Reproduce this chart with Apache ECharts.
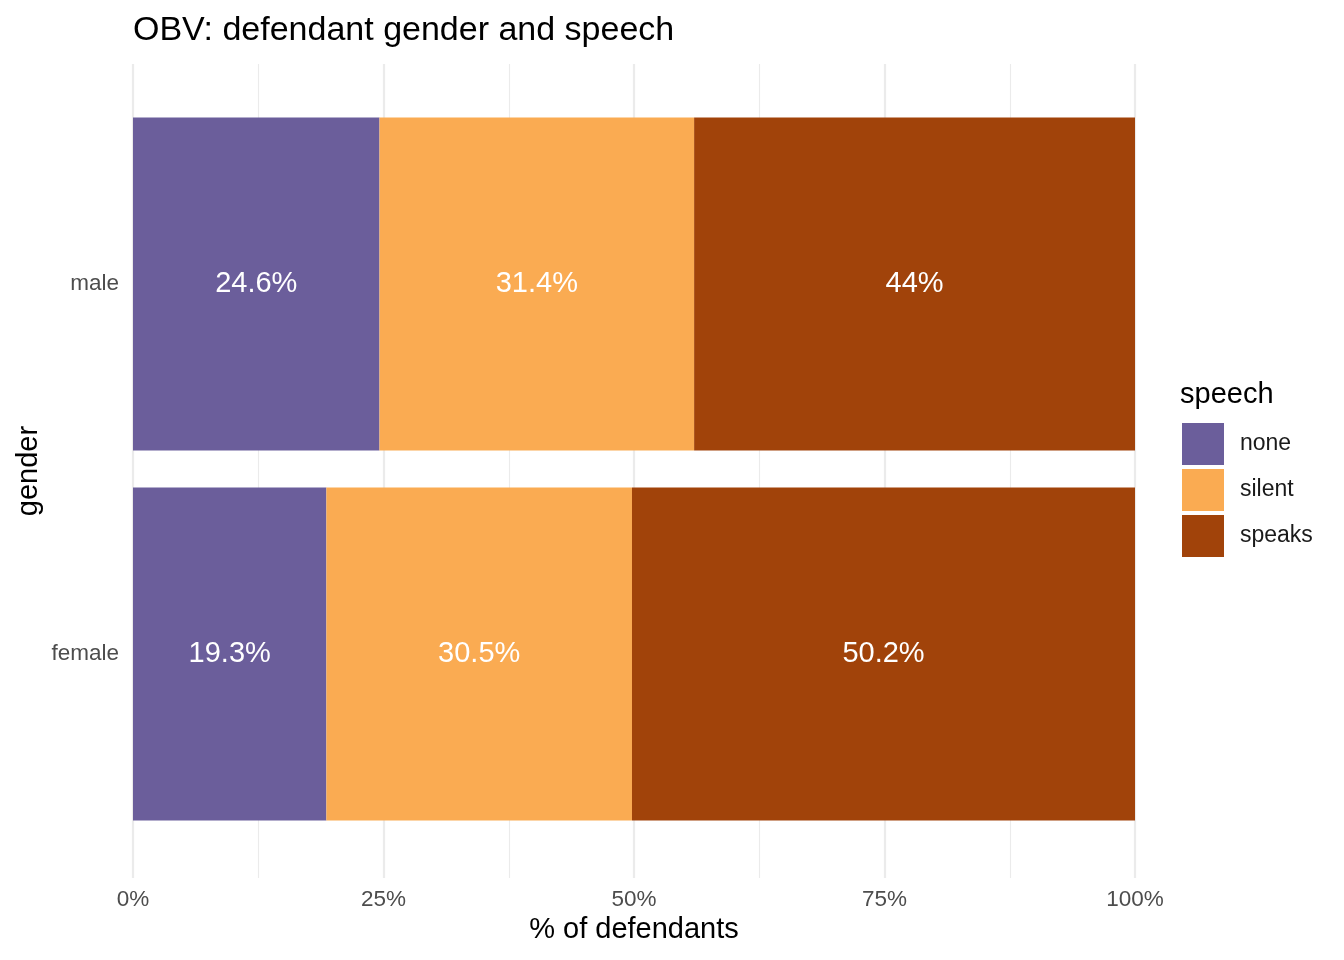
<!DOCTYPE html>
<html>
<head>
<meta charset="utf-8">
<script src="https://cdn.jsdelivr.net/npm/echarts@6/dist/echarts.min.js"></script>
<style>
html,body{margin:0;padding:0;background:#fff;}
#chart{width:1344px;height:960px;}
</style>
</head>
<body>
<div id="chart"></div>
<script>
// data
var genders = ['female', 'male'];
var speechTypes = ['none', 'silent', 'speaks'];
var noneVals = [19.3, 24.6];
var silentVals = [30.5, 31.4];
var speaksVals = [50.2, 44.0];
var xTicks = [0, 25, 50, 75, 100];

var colors = ['#6B5E9B', '#FAAB52', '#A1430A'];
var font = 'Liberation Sans, Arial, Helvetica, sans-serif';

function makeSeries(name, vals, color){
    return {
        name: name,
        type: 'bar',
        stack: 'all',
        xAxisIndex: 1,
        yAxisIndex: 1,
        barCategoryGap: '10%',
        itemStyle: { color: color },
        label: {
            show: true,
            position: 'inside',
            color: '#fff',
            fontSize: 29,
            fontFamily: font,
            formatter: function(p){ return (Math.round(p.value*10)/10) + '%'; }
        },
        data: vals
    };
}

var option = {
    animation: false,
    backgroundColor: '#fff',
    title: {
        text: 'OBV: defendant gender and speech',
        left: 128, top: 9,
        textStyle: { fontFamily: font, fontWeight: 'normal', fontSize: 34, color: '#000' }
    },
    legend: {
        orient: 'vertical',
        left: 1177, top: 418,
        itemWidth: 42, itemHeight: 42, itemGap: 4,
        icon: 'rect',
        data: speechTypes,
        textStyle: { fontFamily: font, fontSize: 23, color: '#1a1a1a', padding: [4, 0, 0, 11] }
    },
    graphic: [{
        type: 'text', left: 1180, top: 380,
        style: { text: 'speech', font: '29px ' + font, fill: '#000' }
    }],
    grid: [
        // panel grid (grid lines span full panel)
        { left: 133, right: 209, top: 64, bottom: 82 },
        // bar grid (band centres at 284 / 654)
        { left: 133, right: 209, top: 99, bottom: 121 }
    ],
    xAxis: [{
        gridIndex: 0,
        type: 'value', min: 0, max: 100, interval: 25,
        axisLine: { show: false }, axisTick: { show: false },
        axisLabel: {
            color: '#4D4D4D', fontSize: 22.5, fontFamily: font, margin: 10,
            formatter: function(v){ return xTicks.indexOf(v) >= 0 ? v + '%' : ''; }
        },
        splitLine: { show: true, lineStyle: { color: '#EBEBEB', width: 2.2 } },
        minorTick: { show: false, splitNumber: 2 },
        minorSplitLine: { show: true, lineStyle: { color: '#EBEBEB', width: 1.1 } },
        name: '% of defendants', nameLocation: 'middle', nameGap: 37,
        nameTextStyle: { fontFamily: font, fontSize: 29, color: '#000' }
    }, {
        gridIndex: 1,
        type: 'value', min: 0, max: 100,
        show: false
    }],
    yAxis: [{
        gridIndex: 0,
        type: 'category', data: genders,
        show: true,
        axisLine: { show: false }, axisTick: { show: false }, axisLabel: { show: false },
        splitLine: { show: false },
        name: 'gender', nameLocation: 'middle', nameGap: 90, nameRotate: 90,
        nameTextStyle: { fontFamily: font, fontSize: 29, color: '#000' }
    }, {
        gridIndex: 1,
        type: 'category', data: genders,
        axisLine: { show: false }, axisTick: { show: false },
        axisLabel: { color: '#4D4D4D', fontSize: 22.5, fontFamily: font, margin: 14 },
        splitLine: { show: false }
    }],
    series: [
        makeSeries('none', noneVals, colors[0]),
        makeSeries('silent', silentVals, colors[1]),
        makeSeries('speaks', speaksVals, colors[2])
    ]
};

var myChart = echarts.init(document.getElementById('chart'));
myChart.setOption(option);
</script>
</body>
</html>
